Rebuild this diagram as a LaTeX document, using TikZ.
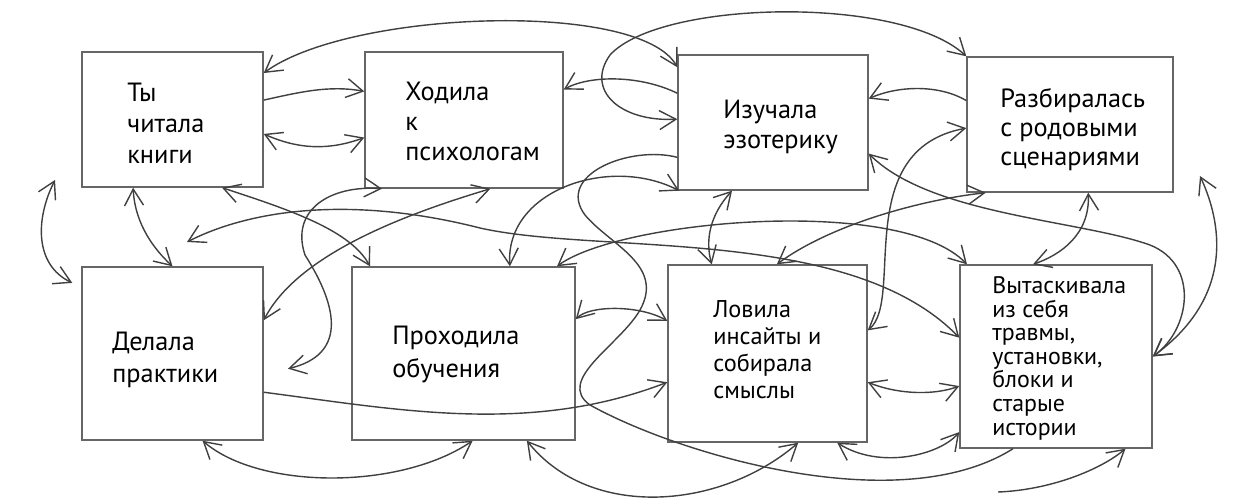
\documentclass[tikz,border=0pt]{standalone}
\usepackage{fontspec}
\setmainfont{PT Sans}
\usetikzlibrary{arrows.meta,fit}
\tikzset{
  box/.style={draw=black!60,line width=0.8pt,inner sep=0pt},
  lbl/.style={anchor=base west,align=left,inner sep=0pt},
  con/.style={draw=black!75,line width=0.8pt},
}
\begin{document}
\begin{tikzpicture}[x=0.02cm,y=-0.02cm,>={Straight Barb[length=3.3mm,width=3.8mm]}]
  \useasboundingbox (0,0) rectangle (1250,500);
  \node[box,fit={(82,52) (263,187)}] (A) {};
  \node[box,fit={(365,52) (563,188)}] (B) {};
  \node[box,fit={(678,55) (868,190)}] (C) {};
  \node[box,fit={(967,57) (1173,192)}] (D) {};
  \node[box,fit={(82,267) (263,440)}] (E) {};
  \node[box,fit={(352,267) (575,440)}] (F) {};
  \node[box,fit={(668,265) (867,442)}] (G) {};
  \node[box,fit={(960,265) (1152,448)}] (H) {};
  \node[lbl,font=\fontsize{15}{17.6}\selectfont] (tA) at (127,163) {Ты\\читала\\книги};
  \node[lbl,font=\fontsize{15}{17}\selectfont] (tB) at (405,160) {Ходила\\к\\психологам};
  \node[lbl,font=\fontsize{15}{17}\selectfont] (tC) at (723,148) {Изучала\\эзотерику};
  \node[lbl,font=\fontsize{15}{16.4}\selectfont] (tD) at (1000,165) {Разбиралась\\с родовыми\\сценариями};
  \node[lbl,font=\fontsize{15}{18.1}\selectfont] (tE) at (112,382) {Делала\\практики};
  \node[lbl,font=\fontsize{15}{18.7}\selectfont] (tF) at (392,377) {Проходила\\обучения};
  \node[lbl,font=\fontsize{13.8}{15.3}\selectfont] (tG) at (713,398) {Ловила\\инсайты и\\собирала\\смыслы};
  \node[lbl,font=\fontsize{13.6}{13.4}\selectfont] (tH) at (992,435) {Вытаскивала\\из себя\\травмы,\\установки,\\блоки и\\старые\\истории};
  \coordinate (gapA) at (55,180);
  \coordinate (gapD) at (1200,176);
  \coordinate (gapAE) at (187,242);
  \coordinate (tailH) at (998,492);
  \draw[con,<->] (A.27) .. controls (350,10) and (640,0) .. (C.150);
  \draw[con,<->] (D.north west) .. controls (900,-5) and (660,0) .. (610,55) .. controls (585,90) and (620,122) .. (C.178);
  \draw[con,->] (A.12) .. controls (300,92) and (330,85) .. (B.164);
  \draw[con,<->] (A.-9) .. controls (300,150) and (330,150) .. (B.190);
  \draw[con,->] (C.163) .. controls (640,75) and (590,75) .. (B.17);
  \draw[con,->] (D.167) .. controls (940,85) and (900,85) .. (C.14);
  \draw[con,<->] (D.182) .. controls (850,150) and (905,300) .. (G.13);
  \draw[con,<->] (C.239) .. controls (710,215) and (705,240) .. (G.122);
  \draw[con,<->] (C.-18) .. controls (930,215) and (1080,220) .. (1150,245) .. controls (1200,265) and (1190,330) .. (H.east);
  \draw[con,<->] (gapD) .. controls (1225,230) and (1230,300) .. (H.east);
  \draw[con,<->] (D.-75) .. controls (1090,235) and (1060,255) .. (H.104);
  \draw[con,<->] (F.43) .. controls (620,220) and (900,195) .. (H.134);
  \draw[con,<->] (G.84) .. controls (830,225) and (920,200) .. (D.219);
  \draw[con,<->] (A.-54) .. controls (290,210) and (350,230) .. (F.137);
  \draw[con,<->,shorten >=5mm] (B.220) .. controls (330,185) and (290,210) .. (305,255) .. controls (340,310) and (345,355) .. (E.-13);
  \draw[con,<->] (B.-69) .. controls (420,210) and (300,250) .. (E.20);
  \draw[con,<->,shorten >=2mm] (gapA) .. controls (35,220) and (35,265) .. (E.144);
  \draw[con,<->] (A.240) .. controls (135,225) and (155,250) .. (E.north);
  \draw[con,<->] (gapAE) .. controls (250,210) and (350,195) .. (480,228) .. controls (600,255) and (850,225) .. (H.169);
  \draw[con,<->] (F.62) .. controls (505,190) and (610,155) .. (C.216);
  \draw[con] (C.200) .. controls (630,145) and (555,175) .. (585,215) .. controls (610,245) and (665,265) .. (640,310) .. controls (620,345) and (555,380) .. (590,405) .. controls (680,455) and (900,520) .. (H.245);
  \draw[con,->] (E.-23) .. controls (400,410) and (530,435) .. (G.196);
  \draw[con,<->] (E.-71) .. controls (260,490) and (400,490) .. (F.-84);
  \draw[con,<->] (F.-54) .. controls (590,520) and (720,510) .. (G.-71);
  \draw[con,<->] (F.17) .. controls (590,305) and (640,305) .. (G.162);
  \draw[con,<->] (G.-16) .. controls (900,395) and (935,395) .. (H.197);
  \draw[con,<->] (G.-52) .. controls (880,470) and (940,455) .. (H.218);
  \draw[con,->] (tailH) .. controls (1050,490) and (1100,470) .. (H.-53);
\end{tikzpicture}
\end{document}
